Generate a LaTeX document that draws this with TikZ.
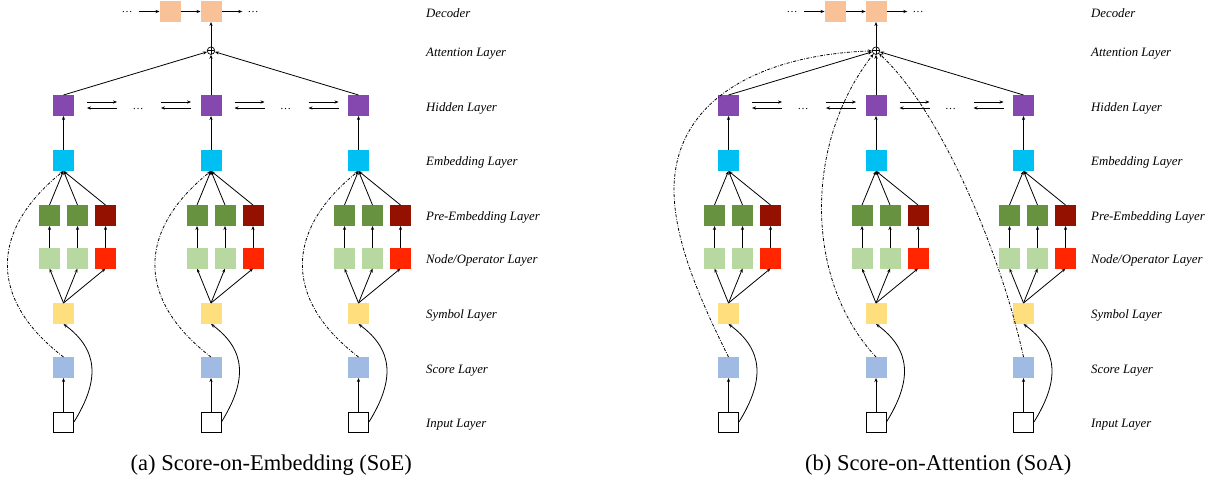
\documentclass[tikz,border=0pt]{standalone}
\usepackage{fontspec}
\setmainfont{Liberation Serif}
\usetikzlibrary{arrows.meta}
\definecolor{cdec}{HTML}{F8C198}
\definecolor{chid}{HTML}{8548AE}
\definecolor{cemb}{HTML}{00BFF3}
\definecolor{cpre}{HTML}{67923F}
\definecolor{cpred}{HTML}{941100}
\definecolor{cnode}{HTML}{B7D8A0}
\definecolor{cnred}{HTML}{FF2600}
\definecolor{csym}{HTML}{FFDF7D}
\definecolor{cscore}{HTML}{A0BBE3}
\tikzset{
 blk/.style={minimum size=21pt, inner sep=0pt, outer sep=0pt},
 inbox/.style={draw=black, line width=0.9pt, fill=white, minimum size=20pt, inner sep=0pt},
 con/.style={line width=0.8pt, -{Stealth[length=4pt,width=3.2pt]}},
 skip/.style={line width=0.8pt, dash pattern=on 3pt off 1.5pt on 0.8pt off 1.5pt, -{Stealth[length=4pt,width=3.2pt]}},
 lbl/.style={anchor=base west, inner sep=0pt, font=\fontsize{12.8}{14}\selectfont\itshape},
 dots/.style={inner sep=0pt, font=\fontsize{11}{12}\selectfont},
 captxt/.style={anchor=base west, inner sep=0pt, font=\fontsize{22.5}{26}\selectfont},
 plus/.style={circle, draw, line width=0.7pt, minimum size=7.5pt, inner sep=0pt,
   path picture={\draw[line width=0.6pt] (path picture bounding box.north) -- (path picture bounding box.south) (path picture bounding box.west) -- (path picture bounding box.east);}}
}
\begin{document}
\begin{tikzpicture}[x=1pt,y=-1pt]
\useasboundingbox (0,0) rectangle (1217,479);
\foreach \pn/\ox in {a/0,b/665}{
\begin{scope}[xshift=\ox pt]
 % decoder
 \node[blk, fill=cdec] (\pn d1) at (170,11.5) {};
 \node[blk, fill=cdec] (\pn d2) at (211,11.5) {};
 \node[dots] (\pn dl) at (127,12.5) {\dots};
 \node[dots] (\pn dr) at (253,12.5) {\dots};
 \draw[con, shorten <=6pt] (\pn dl.east |- \pn d1.west) -- (\pn d1.west);
 \draw[con] (\pn d1) -- (\pn d2);
 \draw[con, shorten >=5pt] (\pn d2.east) -- (\pn d2.east -| \pn dr.west);
 % attention
 \node[plus] (\pn att) at (211,50.7) {};
 \draw[con] (\pn att) -- (\pn d2);
 % columns
 \foreach \col/\cx in {1/63.5,2/211,3/358.5}{
  \node[blk, fill=chid] (\pn h\col) at (\cx,105.5) {};
  \node[blk, fill=cemb] (\pn e\col) at (\cx,160.5) {};
  \node[blk, fill=cpre] (\pn pa\col) at (\cx-14,215.5) {};
  \node[blk, fill=cpre] (\pn pb\col) at (\cx+14,215.5) {};
  \node[blk, fill=cpred] (\pn pc\col) at (\cx+42,215.5) {};
  \node[blk, fill=cnode] (\pn na\col) at (\cx-14,258) {};
  \node[blk, fill=cnode] (\pn nb\col) at (\cx+14,258) {};
  \node[blk, fill=cnred] (\pn nc\col) at (\cx+42,258) {};
  \node[blk, fill=csym] (\pn y\col) at (\cx,313.5) {};
  \node[blk, fill=cscore] (\pn s\col) at (\cx,367.5) {};
  \node[inbox] (\pn i\col) at (\cx,422) {};
  \draw[con] (\pn h\col.north) -- (\pn att);
  \draw[con] (\pn e\col) -- (\pn h\col);
  \draw[con] (\pn pa\col.north) -- (\pn e\col.south);
  \draw[con] (\pn pb\col.north) -- (\pn e\col.south);
  \draw[con] (\pn pc\col.north) -- (\pn e\col.south);
  \draw[con] (\pn na\col) -- (\pn pa\col);
  \draw[con] (\pn nb\col) -- (\pn pb\col);
  \draw[con] (\pn nc\col) -- (\pn pc\col);
  \draw[con] (\pn y\col.north) -- (\pn na\col.south);
  \draw[con] (\pn y\col.north) -- (\pn nb\col.south);
  \draw[con] (\pn y\col.north) -- (\pn nc\col.south);
  \draw[con] (\pn i\col) -- (\pn s\col);
  \draw[con] (\pn i\col.east) .. controls +(26,-42) and +(35,26) .. (\pn y\col.south);
 }
 % hidden bidirectional arrows
 \foreach \g/\gx in {1/63.5,2/211}{
  \coordinate (\pn ga\g) at (\gx+23.5,102);
  \coordinate (\pn gb\g) at (\gx+53.5,102);
  \coordinate (\pn gc\g) at (\gx+23.5,108);
  \coordinate (\pn gd\g) at (\gx+53.5,108);
  \node[dots] (\pn gm\g) at (\gx+74.5,109.5) {\dots};
  \coordinate (\pn ge\g) at (\gx+97.5,102);
  \coordinate (\pn gf\g) at (\gx+127.5,102);
  \coordinate (\pn gg\g) at (\gx+97.5,108);
  \coordinate (\pn gh\g) at (\gx+127.5,108);
  \draw[con] (\pn ga\g) -- (\pn gb\g);
  \draw[con] (\pn gd\g) -- (\pn gc\g);
  \draw[con] (\pn ge\g) -- (\pn gf\g);
  \draw[con] (\pn gh\g) -- (\pn gg\g);
 }
 % labels
 \node[lbl] (\pn L1) at (426,17.5) {Decoder};
 \node[lbl] (\pn L2) at (426,56) {Attention Layer};
 \node[lbl] (\pn L3) at (426,111.2) {Hidden Layer};
 \node[lbl] (\pn L4) at (426,165.2) {Embedding Layer};
 \node[lbl] (\pn L5) at (426,220.2) {Pre-Embedding Layer};
 \node[lbl] (\pn L6) at (426,263.2) {Node/Operator Layer};
 \node[lbl] (\pn L7) at (426,318.2) {Symbol Layer};
 \node[lbl] (\pn L8) at (426,373.2) {Score Layer};
 \node[lbl] (\pn L9) at (426,427.2) {Input Layer};
\end{scope}
}
% score-on-embedding skips
\foreach \col in {1,2,3}{
 \draw[skip] (as\col.north) .. controls +(-74.5,-57) and +(-74.5,60) .. (ae\col.south);
}
% score-on-attention skips
\draw[skip] (bs1.north) .. controls (700,300) and (674,240) .. (674,190) .. controls (674,100) and (760,55) .. (batt);
\draw[skip] (bs2.north) .. controls (804,280) and (804,143) .. (batt);
\draw[skip] (bs3.north) .. controls (1000,250) and (940,110) .. (batt);
% captions
\node[captxt] (capa) at (130.5,470) {(a) Score-on-Embedding (SoE)};
\node[captxt] (capb) at (805,470) {(b) Score-on-Attention (SoA)};
\end{tikzpicture}
\end{document}
